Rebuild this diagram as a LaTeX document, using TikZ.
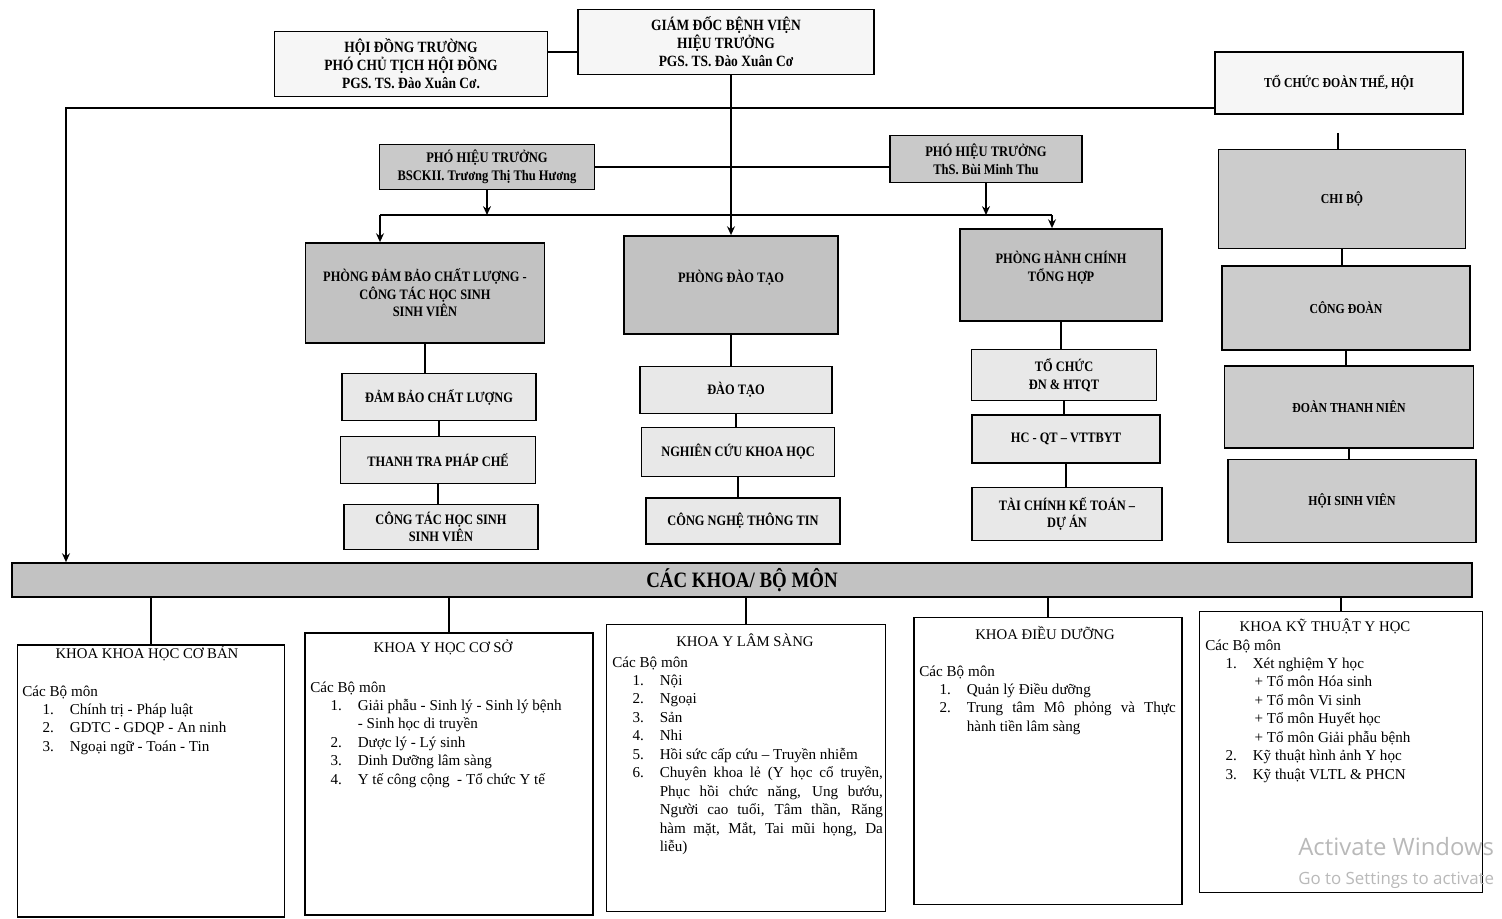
\documentclass[tikz,border=0pt]{standalone}
\usepackage{fontspec}
\setmainfont{Liberation Serif}
\newfontfamily\bxf[FakeStretch=0.86]{Liberation Serif}
\newfontfamily\wmf{Open Sans}
\usetikzlibrary{arrows.meta,calc}
\newcommand{\kit}[2]{\par\noindent\hangindent=27pt\hangafter=1\hspace*{11.5pt}\makebox[15.5pt][l]{#1}#2\par}
\newcommand{\ksub}[1]{\par\noindent\hspace*{28pt}#1\par}
\begin{document}
\begin{tikzpicture}[x=0.02cm,y=-0.02cm,
  sz/.style 2 args={minimum width=#1*0.02cm, minimum height=#2*0.02cm},
  box/.style={draw=black, line width=1pt, align=center, inner sep=2pt,
    font=\bxf\bfseries\fontsize{8.2}{10}\selectfont},
  topbox/.style={box, fill=gray!7, font=\bxf\bfseries\fontsize{8.9}{10.3}\selectfont},
  phtbox/.style={box, fill=gray!42, font=\bxf\bfseries\fontsize{8.3}{10}\selectfont},
  phbox/.style={box, fill=gray!48},
  subbox/.style={box, fill=gray!18},
  unbox/.style={box, fill=gray!40, font=\bxf\bfseries\fontsize{7.8}{9.5}\selectfont},
  khoa/.style={draw=black, line width=1pt, fill=white},
  ktitle/.style={font=\fontsize{8.4}{10}\selectfont, inner sep=0pt},
  kbody/.style={anchor=base west, inner sep=0pt, font=\fontsize{8.6}{10.5}\selectfont},
  conn/.style={line width=1pt},
  arr/.style={conn, -{Stealth[length=5pt,width=4.5pt]}}]
\clip (0,0) rectangle (1502,919);
\fill[white] (0,0) rectangle (1502,919);

% top level
\node[topbox, sz={273}{65}] (hdt) at (411,64) {HỘI ĐỒNG TRƯỜNG\\PHÓ CHỦ TỊCH HỘI ĐỒNG\\PGS. TS. Đào Xuân Cơ.};
\node[topbox, sz={296}{65}] (gd) at (726,42) {GIÁM ĐỐC BỆNH VIỆN\\HIỆU TRƯỞNG\\PGS. TS. Đào Xuân Cơ};
\node[topbox, sz={248}{62}, font=\bxf\bfseries\fontsize{7.8}{9.5}\selectfont] (tc) at (1339,83) {TỔ CHỨC ĐOÀN THỂ, HỘI};

% vice rectors
\node[phtbox, sz={215}{45}] (phtl) at (487,167) {PHÓ HIỆU TRƯỞNG\\BSCKII. Trương Thị Thu Hương};
\node[phtbox, sz={192}{47}] (phtr) at (986,159) {PHÓ HIỆU TRƯỞNG\\ThS. Bùi Minh Thu};

% departments
\node[phbox, sz={239}{100}] (pdb) at (425,293) {PHÒNG ĐẢM BẢO CHẤT LƯỢNG -\\CÔNG TÁC HỌC SINH\\SINH VIÊN};
\node[phbox, sz={214}{98}] (pdt) at (731,285) {PHÒNG ĐÀO TẠO\\\mbox{}};
\node[phbox, sz={202}{92}] (phc) at (1061,275) {PHÒNG HÀNH CHÍNH\\TỔNG HỢP\\\mbox{}};

\node[subbox, sz={194}{47}] (dbcl) at (439,397) {ĐẢM BẢO CHẤT LƯỢNG};
\node[subbox, sz={195}{47}] (ttpc) at (438,460) {THANH TRA PHÁP CHẾ};
\node[subbox, sz={194}{45}] (ctsv) at (441,527) {CÔNG TÁC HỌC SINH\\SINH VIÊN};

\node[subbox, sz={192}{47}] (dt) at (736,390) {ĐÀO TẠO};
\node[subbox, sz={193}{49}] (nckh) at (738,452) {NGHIÊN CỨU KHOA HỌC};
\node[subbox, sz={194}{46}] (cntt) at (743,521) {CÔNG NGHỆ THÔNG TIN};

\node[subbox, sz={185}{51}] (tcdn) at (1064,375) {TỔ CHỨC\\ĐN \& HTQT};
\node[subbox, sz={188}{48}] (hcqt) at (1066,439) {HC - QT – VTTBYT};
\node[subbox, sz={190}{53}] (tckt) at (1067,514) {TÀI CHÍNH KẾ TOÁN –\\DỰ ÁN};

% unions
\node[unbox, sz={247}{99}] (chibo) at (1342,199) {CHI BỘ};
\node[unbox, sz={248}{84}] (congdoan) at (1346,308) {CÔNG ĐOÀN};
\node[unbox, sz={249}{82}] (dtn) at (1349,407) {ĐOÀN THANH NIÊN};
\node[unbox, sz={248}{83}] (hsv) at (1352,501) {HỘI SINH VIÊN};

% faculties bar
\node[box, fill=gray!48, sz={1460}{34}, font=\bxf\bfseries\fontsize{12.5}{14}\selectfont] (bar) at (742,580) {CÁC KHOA/ BỘ MÔN};

% faculty boxes
\node[khoa, sz={267}{272}] (k1) at (151,781) {};
\node[khoa, sz={288}{282}] (k2) at (449,774) {};
\node[khoa, sz={279}{287}] (k3) at (746,768) {};
\node[khoa, sz={268}{287}] (k4) at (1048,761) {};
\node[khoa, sz={283}{281}] (k5) at (1341,752) {};

\node[ktitle] (k1t) at (147,653) {KHOA KHOA HỌC CƠ BẢN};
\node[ktitle] (k2t) at (443,647) {KHOA Y HỌC CƠ SỞ};
\node[ktitle] (k3t) at (745,640) {KHOA Y LÂM SÀNG};
\node[ktitle] (k4t) at (1045,633) {KHOA ĐIỀU DƯỠNG};
\node[ktitle] (k5t) at (1325,626) {KHOA KỸ THUẬT Y HỌC};

\node[kbody] (k1b) at (22,696) {\begin{minipage}[t]{146pt}
Các Bộ môn
\kit{1.}{Chính trị - Pháp luật}
\kit{2.}{GDTC - GDQP - An ninh}
\kit{3.}{Ngoại ngữ - Toán - Tin}
\end{minipage}};

\node[kbody] (k2b) at (310,692) {\begin{minipage}[t]{159pt}
Các Bộ môn
\kit{1.}{Giải phẫu - Sinh lý - Sinh lý bệnh\\- Sinh học di truyền}
\kit{2.}{Dược lý - Lý sinh}
\kit{3.}{Dinh Dưỡng lâm sàng}
\kit{4.}{Y tế công cộng \ - Tổ chức Y tế}
\end{minipage}};

\node[kbody] (k3b) at (612,667) {\begin{minipage}[t]{154pt}
Các Bộ môn
\kit{1.}{Nội}
\kit{2.}{Ngoại}
\kit{3.}{Sản}
\kit{4.}{Nhi}
\kit{5.}{Hồi sức cấp cứu – Truyền nhiễm}
\kit{6.}{Chuyên khoa lẻ (Y học cổ truyền,\linebreak Phục hồi chức năng, Ung bướu,\linebreak Người cao tuổi, Tâm thần, Răng\linebreak hàm mặt, Mắt, Tai mũi họng, Da\linebreak liễu)}
\end{minipage}};

\node[kbody] (k4b) at (919,676) {\begin{minipage}[t]{146pt}
Các Bộ môn
\kit{1.}{Quản lý Điều dưỡng}
\kit{2.}{Trung tâm Mô phỏng và Thực\linebreak hành tiền lâm sàng}
\end{minipage}};

\node[kbody] (k5b) at (1205,650) {\begin{minipage}[t]{153pt}
Các Bộ môn
\kit{1.}{Xét nghiệm Y học}
\ksub{+ Tổ môn Hóa sinh}
\ksub{+ Tổ môn Vi sinh}
\ksub{+ Tổ môn Huyết học}
\ksub{+ Tổ môn Giải phẫu bệnh}
\kit{2.}{Kỹ thuật hình ảnh Y học}
\kit{3.}{Kỹ thuật VLTL \& PHCN}
\end{minipage}};

% connectors
\coordinate (gdl) at ($(gd.west)+(0,10)$);
\draw[conn] (gdl) -- (gdl -| hdt.east);
\draw[arr] (gd.south -| pdt.north) -- (pdt.north);

\coordinate (lc) at (66,108);
\draw[arr] (tc.west |- lc) -- (lc) -- (lc |- bar.north);

\draw[conn] (phtl.east) -- (phtl.east -| phtr.west);
\coordinate (busl) at (380,215);
\coordinate (busr) at (1052,215);
\draw[conn] (busl) -- (busr);
\draw[arr] (phtl.south) -- (phtl.south |- busl);
\draw[arr] (phtr.south) -- (phtr.south |- busl);
\draw[arr] (busl) -- (busl |- pdb.north);
\draw[arr] (busr) -- (busr |- phc.north);

\draw[conn] (pdb.south) -- (pdb.south |- dbcl.north);
\draw[conn] (dbcl.south) -- (dbcl.south |- ttpc.north);
\draw[conn] (ttpc.south) -- (ttpc.south |- ctsv.north);
\draw[conn] (pdt.south) -- (pdt.south |- dt.north);
\draw[conn] (dt.south) -- (dt.south |- nckh.north);
\draw[conn] (nckh.south) -- (nckh.south |- cntt.north);
\draw[conn] (phc.south) -- (phc.south |- tcdn.north);
\draw[conn] (tcdn.south) -- (tcdn.south |- hcqt.north);
\draw[conn] (hcqt.south) -- (hcqt.south |- tckt.north);

\coordinate (tcl) at (1338,133);
\draw[conn] (tcl) -- (tcl |- chibo.north);
\draw[conn] (chibo.south) -- (chibo.south |- congdoan.north);
\draw[conn] (congdoan.south) -- (congdoan.south |- dtn.north);
\draw[conn] (dtn.south) -- (dtn.south |- hsv.north);

\foreach \k in {k1,k2,k3,k4,k5}
  \draw[conn] (\k.north |- bar.south) -- (\k.north);

% watermark
\node[anchor=west, inner sep=0pt, text=gray!55, font=\wmf\fontsize{13.6}{16}\selectfont] (wm1) at (1298,847) {Activate Windows};
\node[anchor=west, inner sep=0pt, text=gray!55, font=\wmf\fontsize{9.6}{12}\selectfont] (wm2) at (1298,880) {Go to Settings to activate};
\end{tikzpicture}
\end{document}
